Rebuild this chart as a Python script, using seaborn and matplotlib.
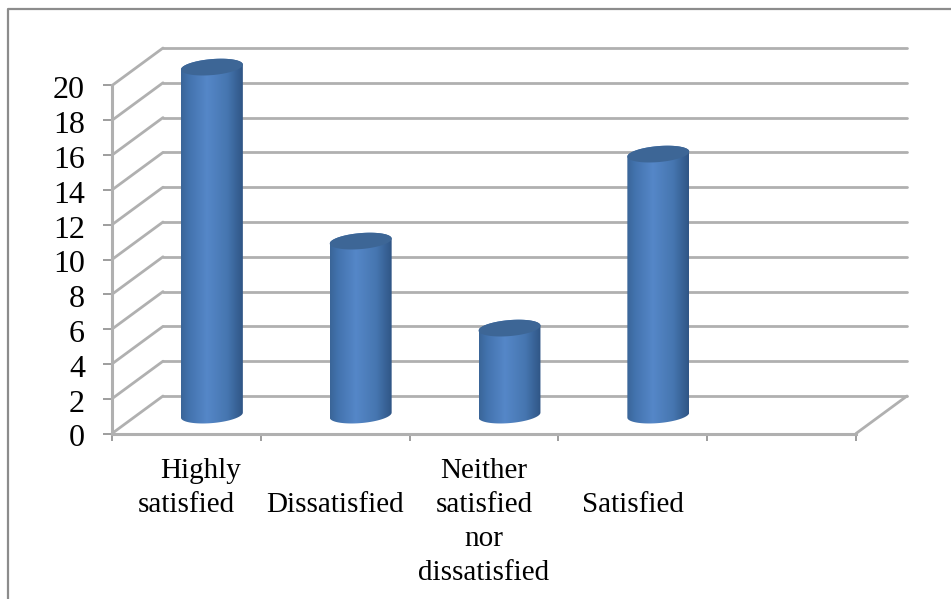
import numpy as np
import pandas as pd
import seaborn as sns
import matplotlib
matplotlib.use("Agg")
import matplotlib.pyplot as plt
from matplotlib.colors import LinearSegmentedColormap
from matplotlib.lines import Line2D
from matplotlib.patches import PathPatch, Polygon
from matplotlib.path import Path
from matplotlib.transforms import ScaledTranslation

categories = ["Highly satisfied", "Dissatisfied", "Neither satisfied nor dissatisfied", "Satisfied"]
values = [20, 10, 5, 15]
y_ticks = [0, 2, 4, 6, 8, 10, 12, 14, 16, 18, 20]
# how each category label is wrapped under the axis, blank first line keeps single words on row two
label_lines = [["Highly", "satisfied"], ["", "Dissatisfied"], ["Neither", "satisfied", "nor", "dissatisfied"], ["", "Satisfied"]]

sns.set_theme(style="white")
plt.rcParams["font.family"] = ["Liberation Serif", "DejaVu Sans"]

W, H = 951, 599
GRID = "#b0b0b0"
FRAME = "#8c8c8c"

fig = plt.figure(figsize=(W / 100, H / 100), dpi=100)
# front plane of the fake 3D box, in pixels of the reference
ax = fig.add_axes([112 / W, 1 - 433.5 / H, 744 / W, 348 / H])

df = pd.DataFrame({"category": categories, "value": values})
sns.barplot(data=df, x="category", y="value", ax=ax, width=0.416, color="#4f81bd")
ax.set_xlabel("")
ax.set_ylabel("")

# how far the back wall is shifted from the front plane, in data units
px_x = 148.8
px_y = 17.4
depth_x = 51 / px_x
depth_y = 37.5 / px_y

for v in y_ticks:
    ax.plot([-0.5 + depth_x, 4.5 + depth_x], [v + depth_y, v + depth_y], color=GRID, lw=2, clip_on=False, zorder=1)
    ax.plot([-0.5, -0.5 + depth_x], [v, v + depth_y], color=GRID, lw=2, clip_on=False, zorder=1)
ax.plot([4.5, 4.5 + depth_x], [0, depth_y], color=GRID, lw=2, clip_on=False, zorder=1)

# cylinders, built on top of the bars seaborn made
cmap = LinearSegmentedColormap.from_list(
    "cyl", [(0, "#3a6597"), (0.12, "#4272ad"), (0.42, "#5587c8"), (0.75, "#4676b0"), (1, "#2f5585")]
)
gradient = np.linspace(0, 1, 256).reshape(1, -1)
b = 8.0 / px_y
tilt = (2.5 / px_y) / (31 / px_x)
t = np.linspace(0, 2 * np.pi, 121)

for bar in list(ax.patches):
    x0 = bar.get_x() + depth_x / 2
    w = bar.get_width()
    h = bar.get_height()
    bar.set_alpha(0)
    xc = x0 + w / 2
    y0 = depth_y / 2 - 0.02
    y1 = h + depth_y / 2 - 0.02

    ex = xc + w / 2 * np.cos(t)
    ey = b * np.sin(t) + tilt * (ex - xc)
    upper = t <= np.pi
    lower = t >= np.pi
    # outline: bottom half of base ellipse, then up and back over the top ellipse
    xs = np.concatenate([ex[lower], ex[upper]])
    ys = np.concatenate([y0 + ey[lower], y1 + ey[upper]])
    outline = PathPatch(Path(np.column_stack([xs, ys]), closed=False), transform=ax.transData, fc="none", ec="none")
    ax.add_patch(outline)
    outline.set_clip_on(False)

    im = ax.imshow(gradient, extent=[x0, x0 + w, y0 - 2, y1 + 2], aspect="auto", cmap=cmap, zorder=3, interpolation="bilinear")
    # the top of the tallest cylinder pokes out of the axes box, so clip to the figure plus the outline only
    im.set_clip_box(fig.bbox)
    im.set_clip_path(outline)

    top = Polygon(np.column_stack([ex, y1 + ey]), closed=True, fc="#3d6696", ec="none", zorder=4, clip_on=False)
    ax.add_patch(top)

ax.set_xlim(-0.5, 4.5)
ax.set_ylim(0, 20)

for side in ["top", "right"]:
    ax.spines[side].set_visible(False)
for side in ["left", "bottom"]:
    ax.spines[side].set_color(GRID)
    ax.spines[side].set_linewidth(2.2)

ax.set_yticks(y_ticks)
ax.set_xticks(np.arange(-0.5, 5))
ax.set_xticklabels([])
ax.tick_params(axis="y", left=True, length=6.5, width=1.2, color=FRAME, labelsize=23, pad=13, labelcolor="black")
ax.tick_params(axis="x", bottom=True, length=5, width=1.2, color=FRAME)

# y tick text sits a bit under its tick in the original
nudge = ScaledTranslation(0, -2 / 100, fig.dpi_scale_trans)
for lab in ax.get_yticklabels():
    lab.set_transform(lab.get_transform() + nudge)

# category labels sit below the axis; the first label's lines are not centred in the original
line_step = 34.0
for i, lines in enumerate(label_lines):
    for j, line in enumerate(lines):
        shift = 0
        if i == 0 and j == 0:
            shift = 14
        ax.annotate(line, xy=(i, 0), xycoords="data",
                    xytext=(shift, -(38 + j * line_step)), textcoords=("offset pixels"),
                    ha="center", va="center", fontsize=21, color="black", annotation_clip=False)

# outer chart frame, only top and left fall inside the crop
fig.add_artist(Line2D([7.5 / W, 7.5 / W, 1], [0, 1 - 8.5 / H, 1 - 8.5 / H], color=FRAME, lw=1.6))

fig.savefig("out.png", dpi=100)
